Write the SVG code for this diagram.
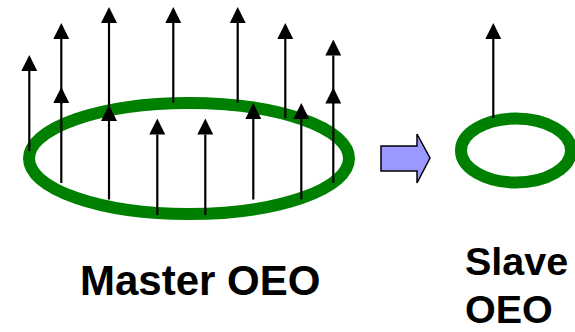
<svg xmlns="http://www.w3.org/2000/svg" width="575" height="332" viewBox="0 0 575 332">
<style>
.ring{fill:none;stroke:#008000;stroke-width:12}
.vec{stroke:#000;stroke-width:2.2;marker-end:url(#head)}
.lbl{font-family:"Liberation Sans",Arial,sans-serif;font-weight:bold;fill:#000}
</style>
<defs>
<marker id="head" markerUnits="userSpaceOnUse" markerWidth="16" markerHeight="16" viewBox="0 0 16 16" refX="0" refY="8" orient="auto">
<path d="M0,0 L16,8 L0,16 z" fill="#000"/>
</marker>
</defs>
<rect width="575" height="332" fill="#fff"/>
<g id="master-ring"><ellipse class="ring" cx="189" cy="158.5" rx="160" ry="55.5"/></g>
<g id="slave-ring"><ellipse class="ring" cx="516" cy="150.5" rx="55" ry="32"/></g>
<g id="block-arrow"><path d="M381,146 L417,146 L417,134 L430,158 L417,183 L417,171 L381,171 z" fill="#9999ff" stroke="#000" stroke-width="1.5" stroke-linejoin="miter"/></g>
<g id="connectors">
<line class="vec" x1="29.3" y1="151" x2="29.3" y2="71"/>
<line class="vec" x1="61.3" y1="104" x2="61.3" y2="39"/>
<line class="vec" x1="61.3" y1="183" x2="61.3" y2="103"/>
<line class="vec" x1="109" y1="110" x2="109" y2="23"/>
<line class="vec" x1="109" y1="199.5" x2="109" y2="121"/>
<line class="vec" x1="157.3" y1="215" x2="157.3" y2="134.5"/>
<line class="vec" x1="173.3" y1="102.7" x2="173.3" y2="23"/>
<line class="vec" x1="205.3" y1="215" x2="205.3" y2="134.5"/>
<line class="vec" x1="237.7" y1="102.7" x2="237.7" y2="23"/>
<line class="vec" x1="253.3" y1="199.5" x2="253.3" y2="119"/>
<line class="vec" x1="285.3" y1="118.3" x2="285.3" y2="39"/>
<line class="vec" x1="301.3" y1="199.5" x2="301.3" y2="119"/>
<line class="vec" x1="333.3" y1="104" x2="333.3" y2="55.5"/>
<line class="vec" x1="333.3" y1="183" x2="333.3" y2="103.5"/>
<line class="vec" x1="493.3" y1="118" x2="493.3" y2="39"/>
</g>
<g id="labels">
<text class="lbl" x="80" y="295" font-size="42">Master OEO</text>
<text class="lbl" x="465" y="275" font-size="39.5">Slave</text>
<text class="lbl" x="465" y="323" font-size="39.5">OEO</text>
</g>
</svg>
